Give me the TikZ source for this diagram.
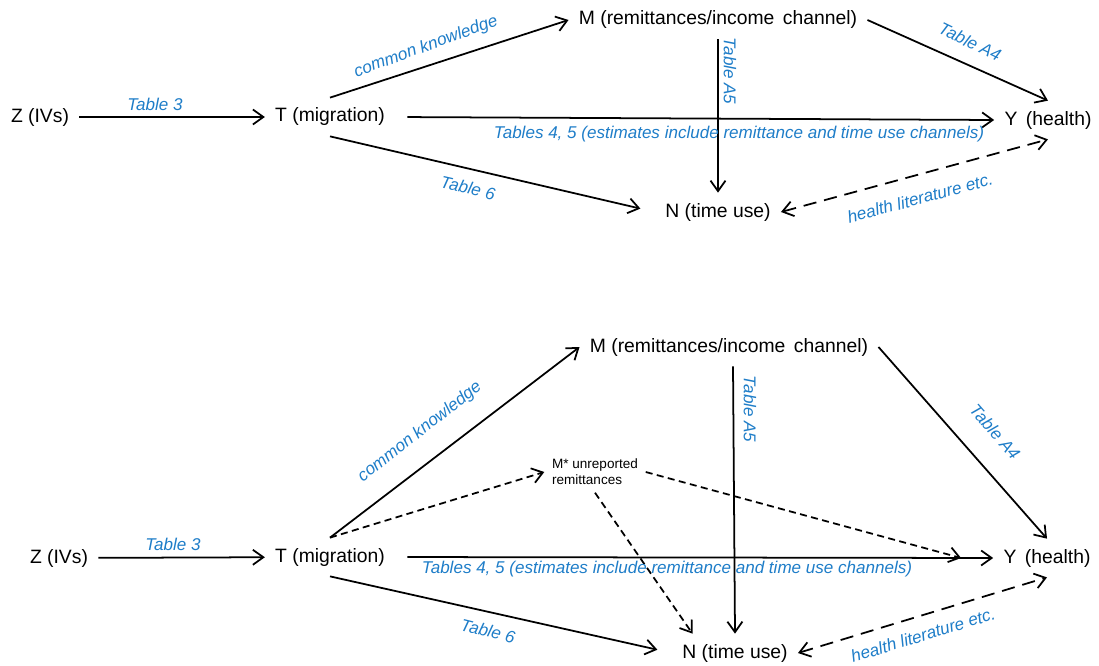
\documentclass[tikz,border=0pt]{standalone}
\usepackage{fontspec}
\setmainfont{Liberation Sans}
\usetikzlibrary{arrows.meta}
\definecolor{tabblue}{RGB}{30,125,200}
\begin{document}
\begin{tikzpicture}[
    vertex/.style={inner sep=0.2cm,font=\fontsize{11}{13}\selectfont},
    smallvertex/.style={inner sep=0.15cm,align=left,font=\fontsize{7.7}{9}\selectfont},
    lab/.style={inner sep=1pt,text=tabblue,font=\fontsize{9.7}{11}\selectfont\itshape},
    arr/.style={-{Straight Barb[length=2.1mm,width=3mm]},line width=1pt},
    shortdash/.style={arr,dash pattern=on 4pt off 2.5pt},
    longdash/.style={arr,{Straight Barb[length=2.1mm,width=3mm]}-{Straight Barb[length=2.1mm,width=3mm]},dash pattern=on 7.5pt off 4.5pt}
]
\useasboundingbox (0,0) rectangle (21.98,13.30);

% Górny schemat
\node[vertex] (Z) at (0.80,10.96) {Z (IVs)};
\node[vertex] (T) at (6.60,10.96) {T (migration)};
\node[vertex] (M) at (14.36,12.90) {M (remittances/income\, channel)};
\node[vertex] (Y) at (20.96,10.90) {Y\, (health)};
\node[vertex] (N) at (14.36,9.06) {N (time use)};

\draw[arr] (Z) -- (T);
\draw[arr] (T.north) -- (M.west);
\draw[arr,shorten <=7pt] (T.east) -- (Y.west);
\draw[arr,shorten >=0.3cm] (T.south) -- (N.west);
\draw[arr] (M.south) -- (N.north);
\draw[arr] (M.east) -- (Y.north);
\draw[longdash] (N.east) -- (Y.south);

\node[lab] (t3) at (3.10,11.22) {Table 3};
\node[lab,rotate=20] (ck) at (8.52,12.36) {common knowledge};
\node[lab] (t45) at (14.78,10.62) {Tables 4, 5 (estimates include remittance and time use channels)};
\node[lab,rotate=-13] (t6) at (9.36,9.54) {Table 6};
\node[lab,rotate=-90] (ta5) at (14.60,11.88) {Table A5};
\node[lab,rotate=-26] (ta4) at (19.40,12.46) {Table A4};
\node[lab,rotate=15] (hl) at (18.40,9.34) {health literature etc.};

% Dolny schemat
\node[vertex] (Z2) at (1.18,2.14) {Z (IVs)};
\node[vertex] (T2) at (6.60,2.16) {T (migration)};
\node[vertex] (M2) at (14.58,6.36) {M (remittances/income\, channel)};
\node[vertex] (Y2) at (20.94,2.14) {Y\, (health)};
\node[vertex] (N2) at (14.70,0.24) {N (time use)};
\node[smallvertex] (Ms) at (11.90,3.86) {M* unreported\\remittances};
\coordinate (Yin) at ([xshift=-0.64cm]Y2.west);

\draw[arr] (Z2) -- (T2);
\draw[arr] (T2.north) -- (M2.west);
\draw[shortdash] (T2.north) -- (Ms.west);
\draw[arr,shorten <=7pt] (T2.east) -- (Y2.west);
\draw[arr,shorten >=0.3cm] (T2.south) -- (N2.west);
\draw[arr] ([xshift=0.08cm]M2.south) -- (N2.north);
\draw[arr] (M2.east) -- (Y2.north);
\draw[shortdash] (Ms.east) -- (Yin);
\draw[shortdash] (Ms.south) -- ([xshift=-0.85cm]N2.north);
\draw[longdash] (N2.east) -- (Y2.south);

\node[lab] (t3b) at (3.46,2.42) {Table 3};
\node[lab,rotate=38] (ckb) at (8.40,4.66) {common knowledge};
\node[lab] (t45b) at (13.34,1.92) {Tables 4, 5 (estimates include remittance and time use channels)};
\node[lab,rotate=-14] (t6b) at (9.76,0.68) {Table 6};
\node[lab,rotate=-90] (ta5b) at (15.00,5.12) {Table A5};
\node[lab,rotate=-49] (ta4b) at (19.90,4.66) {Table A4};
\node[lab,rotate=17] (hlb) at (18.46,0.60) {health literature etc.};

\end{tikzpicture}
\end{document}
